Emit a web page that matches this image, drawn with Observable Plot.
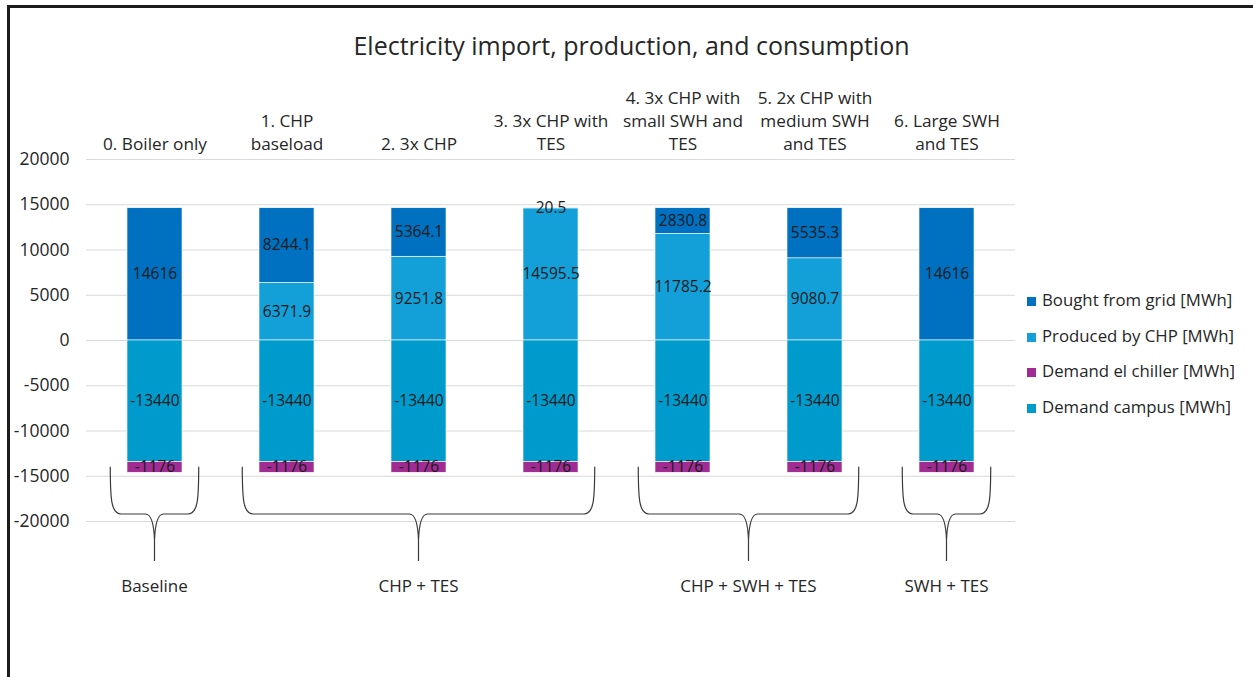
<!DOCTYPE html>
<html>
<head>
<meta charset="utf-8">
<script src="https://cdn.jsdelivr.net/npm/d3@7"></script>
<script src="https://cdn.jsdelivr.net/npm/@observablehq/plot@0.6"></script>
<style>
  body { margin: 0; background: #fff; font-family: "Open Sans", sans-serif; color: #262626; }
  #wrap { position: relative; width: 1253px; height: 677px; overflow: hidden; }
  #frame { position: absolute; left: 7px; top: 5px; width: 1400px; height: 900px;
           border-left: 3px solid #1c1c1c; border-top: 3px solid #1c1c1c; }
  #title { position: absolute; left: 0; top: 29px; width: 1263px; text-align: center;
           font-size: 25px; line-height: 32px; color: #262626; }
  #chart { position: absolute; left: 0; top: 0; }
  #legend { position: absolute; left: 1027px; top: 282px; font-size: 16.8px; }
  #legend .item { height: 35.7px; line-height: 35.7px; white-space: nowrap; }
  #legend .sw { display: inline-block; width: 9px; height: 9px; margin-right: 6px; vertical-align: 0px; }
</style>
</head>
<body>
<div id="wrap">
  <div id="frame"></div>
  <div id="chart"></div>
  <div id="title">Electricity import, production, and consumption</div>
  <div id="legend"></div>
</div>
<script>
// Scenarios and the labels printed above each column
const scenarios = ["0", "1", "2", "3", "4", "5", "6"];
const scenarioLabels = [
  "0. Boiler only",
  "1. CHP\nbaseload",
  "2. 3x CHP",
  "3. 3x CHP with\nTES",
  "4. 3x CHP with\nsmall SWH and\nTES",
  "5. 2x CHP with\nmedium SWH\nand TES",
  "6. Large SWH\nand TES"
];

// Annual electricity balance per scenario [MWh]
const boughtFromGrid  = [14616, 8244.1, 5364.1, 20.5, 2830.8, 5535.3, 14616];
const producedByCHP   = [0, 6371.9, 9251.8, 14595.5, 11785.2, 9080.7, 0];
const demandCampus    = [-13440, -13440, -13440, -13440, -13440, -13440, -13440];
const demandElChiller = [-1176, -1176, -1176, -1176, -1176, -1176, -1176];

// Series names (legend order) and colours
const legendSeries = ["Bought from grid [MWh]", "Produced by CHP [MWh]", "Demand el chiller [MWh]", "Demand campus [MWh]"];
const seriesColors = ["#0070C0", "#13A0D8", "#A02B93", "#009BCD"];

// Scenario groups marked with a brace under the chart
const groupNames = ["Baseline", "CHP + TES", "CHP + SWH + TES", "SWH + TES"];
const groupFirst = ["0", "1", "4", "6"];
const groupLast  = ["0", "3", "5", "6"];

const yTicks = [-20000, -15000, -10000, -5000, 0, 5000, 10000, 15000, 20000];

// Stacking order: production then grid import upward, campus then chiller downward
const stackOrder = [
  ["Produced by CHP [MWh]", producedByCHP],
  ["Bought from grid [MWh]", boughtFromGrid],
  ["Demand campus [MWh]", demandCampus],
  ["Demand el chiller [MWh]", demandElChiller]
];
const rows = [];
scenarios.forEach((s, i) => {
  for (const [name, values] of stackOrder) {
    if (values[i] !== 0) rows.push({scenario: s, series: name, value: values[i]});
  }
});

const font = "'Open Sans', sans-serif";

const plot = Plot.plot({
  width: 1253,
  height: 677,
  marginLeft: 86,
  marginRight: 238,
  marginTop: 159,
  marginBottom: 156,
  style: {fontFamily: font, fontSize: "17px", color: "#262626", background: "transparent", overflow: "visible"},
  x: {domain: scenarios, paddingInner: 0.585, paddingOuter: 0.2925, label: null},
  y: {domain: [-20000, 20000], label: null},
  color: {domain: legendSeries, range: seriesColors},
  marks: [
    Plot.gridY(yTicks, {stroke: "#d9d9d9", strokeOpacity: 1, strokeWidth: 1.2}),
    Plot.axisY(yTicks, {tickSize: 0, tickPadding: 17, fontSize: 17.5, fill: "#262626", tickFormat: d => String(d)}),
    Plot.axisX({anchor: "top", tickSize: 0, tickPadding: 10, fontSize: 17.2, fill: "#262626", lineHeight: 1.31,
                tickFormat: d => scenarioLabels[scenarios.indexOf(d)]}),
    Plot.barY(rows, {x: "scenario", y: "value", fill: "series", stroke: "#fff", strokeWidth: 0.6}),
    Plot.text(rows, Plot.stackY({x: "scenario", y: "value", text: d => String(d.value),
                                 fontSize: 15.5, fill: "#1a1a1a"}))
  ]
});
document.getElementById("chart").appendChild(plot);

// Group braces below the bars, placed with the chart's own scales
const xs = plot.scale("x");
const ys = plot.scale("y");
const center = v => xs.apply(v) + xs.bandwidth / 2;
const ext = xs.step * 0.335;
const braceTop = ys.apply(-14000);
const yh = ys.apply(-20000) - 7;
const tip = yh + 47;
const g = d3.select(plot).append("g");
groupNames.forEach((name, i) => {
  const x0 = center(groupFirst[i]) - ext;
  const x1 = center(groupLast[i]) + ext;
  const xm = (center(groupFirst[i]) + center(groupLast[i])) / 2;
  const d = `M${x0},${braceTop} C${x0},${yh - 14} ${x0 + 1},${yh} ${x0 + 11},${yh} L${xm - 9},${yh} ` +
            `Q${xm - 1},${yh} ${xm},${yh + 26} L${xm},${tip} M${xm},${yh + 26} Q${xm + 1},${yh} ${xm + 9},${yh} ` +
            `L${x1 - 11},${yh} C${x1 - 1},${yh} ${x1},${yh - 14} ${x1},${braceTop}`;
  g.append("path").attr("d", d).attr("fill", "none").attr("stroke", "#3a3a3a").attr("stroke-width", 1.2);
  g.append("text").attr("x", xm).attr("y", tip + 26).attr("text-anchor", "middle")
    .attr("dominant-baseline", "middle").attr("font-size", 17).attr("fill", "#262626")
    .attr("font-family", font).text(name);
});

// Legend
const legend = d3.select("#legend");
legendSeries.forEach((name, i) => {
  const item = legend.append("div").attr("class", "item");
  item.append("span").attr("class", "sw").style("background", seriesColors[i]);
  item.append("span").text(name);
});
</script>
</body>
</html>
